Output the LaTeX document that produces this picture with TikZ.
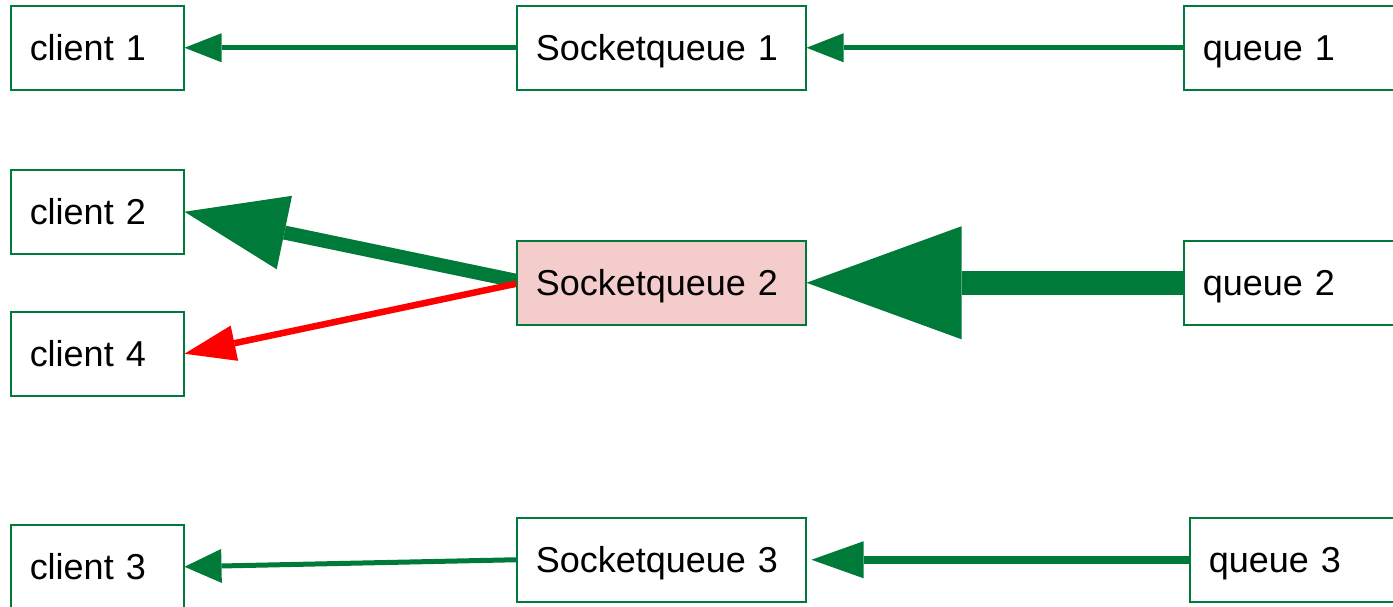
\documentclass[tikz,border=0pt]{standalone}
\usepackage{fontspec}
\setmainfont{Liberation Sans}
\usetikzlibrary{arrows.meta}
\definecolor{qgreen}{HTML}{007A38}
\definecolor{qred}{HTML}{FF0000}
\definecolor{qpink}{HTML}{F4CCCC}
\tikzset{
  qbox/.style={draw=qgreen, line width=1.5pt, rectangle, anchor=north west,
    minimum height=84pt, inner xsep=19pt, inner ysep=0pt, align=left,
    text height=26pt, text depth=0pt, font=\fontsize{36}{40}\selectfont},
  clientbox/.style={qbox, text width=135pt},
  sockbox/.style={qbox, text width=251pt},
  queuebox/.style={qbox, text width=251pt},
  thinflow/.style={draw=qgreen, line width=4.8pt,
    -{Triangle[length=37pt,width=29pt,line width=0pt]}},
}
\begin{document}
\begin{tikzpicture}[x=1pt,y=-1pt]
  \useasboundingbox (0,0) rectangle (1393,606);
  \clip (0,0) rectangle (1393,606);

  % clients
  \node[clientbox] (c1) at (10,5)   {client 1};
  \node[clientbox] (c2) at (10,169) {client 2};
  \node[clientbox] (c4) at (10,311) {client 4};
  \node[clientbox] (c3) at (10,524) {client 3};

  % socket queues
  \node[sockbox] (s1) at (516,5)   {Socketqueue 1};
  \node[sockbox, fill=qpink] (s2) at (516,240) {Socketqueue 2};
  \node[sockbox] (s3) at (516,517) {Socketqueue 3};

  % queues
  \node[queuebox] (q1) at (1183,5)   {queue 1};
  \node[queuebox] (q2) at (1183,240) {queue 2};
  \node[queuebox] (q3) at (1189,517) {queue 3};

  % row 1
  \draw[thinflow] (s1.west) -- (c1.east);
  \draw[thinflow] (q1.west) -- (s1.east);

  % row 2
  \draw[draw=qgreen, line width=14pt,
        -{Triangle[length=102pt,width=75pt,line width=0pt]}]
        ([yshift=2pt]s2.west) -- (c2.east);
  \draw[draw=qred, line width=6.5pt,
        -{Triangle[length=51pt,width=36pt,line width=0pt]}]
        ([yshift=-1pt]s2.west) -- (c4.east);
  \draw[draw=qgreen, line width=24pt,
        -{Triangle[length=155pt,width=113pt,line width=0pt]}]
        (q2.west) -- (s2.east);

  % row 3
  \draw[draw=qgreen, line width=5pt,
        -{Triangle[length=37pt,width=34pt,line width=0pt]}]
        (s3.west) -- (c3.east);
  \draw[draw=qgreen, line width=8pt, shorten >=5pt,
        -{Triangle[length=52pt,width=37pt,line width=0pt]}]
        (q3.west) -- (s3.east);
\end{tikzpicture}
\end{document}
